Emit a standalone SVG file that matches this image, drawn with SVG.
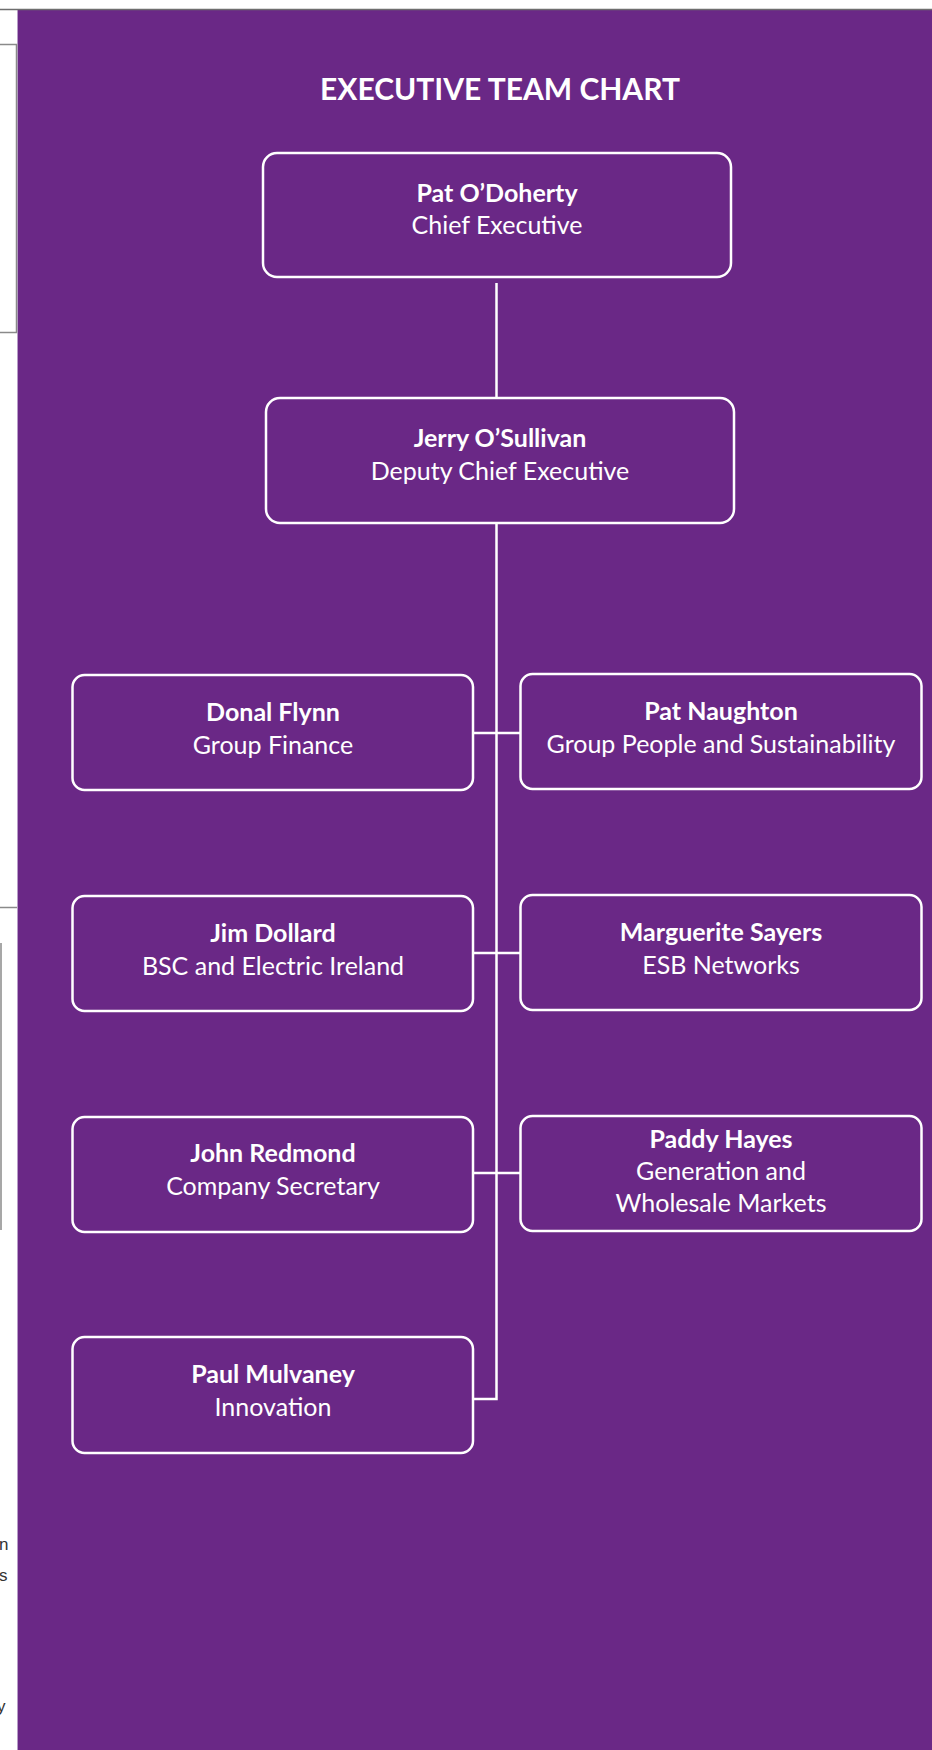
<svg xmlns="http://www.w3.org/2000/svg" width="932" height="1750" viewBox="0 0 932 1750">
<style>
.box{fill:none;stroke:#ffffff;stroke-width:2.5}
.con{fill:none;stroke:#ffffff;stroke-width:2.5}
.nm{font-family:Lato,"Noto Sans",sans-serif;font-weight:bold;font-size:25px;fill:#ffffff;text-anchor:middle}
.rl{font-family:Lato,"Noto Sans",sans-serif;font-size:25px;fill:#ffffff;text-anchor:middle}
.ttl{font-family:Lato,"Noto Sans",sans-serif;font-weight:bold;font-size:30px;fill:#ffffff;text-anchor:middle}
.edge{fill:none;stroke:#8a8a8a;stroke-width:1.5}
.frag{font-family:"Liberation Sans",Arial,sans-serif;font-size:17px;fill:#333333}
</style>
<rect x="0" y="0" width="932" height="1750" fill="#ffffff"/>
<rect x="17.5" y="10" width="914.5" height="1740" fill="#6a2886"/>
<line x1="17.5" y1="10" x2="17.5" y2="1750" stroke="#b89cc8" stroke-width="1"/>
<line x1="0" y1="9.5" x2="932" y2="9.5" stroke="#6e6e6e" stroke-width="1.5"/>
<g id="page-edge">
<polyline class="edge" points="0,44.5 16.5,44.5 16.5,332.5 0,332.5"/>
<line class="edge" x1="0" y1="907.5" x2="17" y2="907.5"/>
<line class="edge" x1="1" y1="943" x2="1" y2="1230"/>
<text class="frag" x="-1" y="1550">n</text>
<text class="frag" x="-1" y="1581">s</text>
<text class="frag" x="-3" y="1712">y</text>
</g>
<text class="ttl" x="500" y="100">EXECUTIVE TEAM CHART</text>
<g id="connectors">
<line class="con" x1="496.5" y1="283" x2="496.5" y2="398"/>
<polyline class="con" points="496.5,523 496.5,1399 473,1399"/>
<line class="con" x1="473" y1="733" x2="520" y2="733"/>
<line class="con" x1="473" y1="953" x2="520" y2="953"/>
<line class="con" x1="473" y1="1173" x2="520" y2="1173"/>
</g>
<g id="n-odoherty">
<rect class="box" x="263" y="153" width="468" height="124" rx="14"/>
<text class="nm" x="497" y="202">Pat O’Doherty</text>
<text class="rl" x="497" y="234">Chief Executive</text>
</g>
<g id="n-osullivan">
<rect class="box" x="266" y="398" width="468" height="125" rx="14"/>
<text class="nm" x="500" y="447">Jerry O’Sullivan</text>
<text class="rl" x="500" y="480">Deputy Chief Executive</text>
</g>
<g id="n-flynn">
<rect class="box" x="72.5" y="675" width="400.5" height="115" rx="12"/>
<text class="nm" x="273" y="721">Donal Flynn</text>
<text class="rl" x="273" y="754">Group Finance</text>
</g>
<g id="n-naughton">
<rect class="box" x="520.5" y="674" width="401" height="115" rx="12"/>
<text class="nm" x="721" y="720">Pat Naughton</text>
<text class="rl" x="721" y="753">Group People and Sustainability</text>
</g>
<g id="n-dollard">
<rect class="box" x="72.5" y="896" width="400.5" height="115" rx="12"/>
<text class="nm" x="273" y="942">Jim Dollard</text>
<text class="rl" x="273" y="975">BSC and Electric Ireland</text>
</g>
<g id="n-sayers">
<rect class="box" x="520.5" y="895" width="401" height="115" rx="12"/>
<text class="nm" x="721" y="941">Marguerite Sayers</text>
<text class="rl" x="721" y="974">ESB Networks</text>
</g>
<g id="n-redmond">
<rect class="box" x="72.5" y="1117" width="400.5" height="115" rx="12"/>
<text class="nm" x="273" y="1162">John Redmond</text>
<text class="rl" x="273" y="1195">Company Secretary</text>
</g>
<g id="n-hayes">
<rect class="box" x="520.5" y="1116" width="401" height="115" rx="12"/>
<text class="nm" x="721" y="1148">Paddy Hayes</text>
<text class="rl" x="721" y="1180">Generation and</text>
<text class="rl" x="721" y="1212">Wholesale Markets</text>
</g>
<g id="n-mulvaney">
<rect class="box" x="72.5" y="1337" width="400.5" height="116" rx="12"/>
<text class="nm" x="273" y="1383">Paul Mulvaney</text>
<text class="rl" x="273" y="1416">Innovation</text>
</g>
</svg>
